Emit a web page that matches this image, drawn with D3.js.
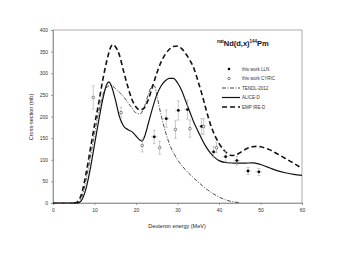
<!DOCTYPE html>
<head>
  <meta charset="utf-8">
  <script src="https://d3js.org/d3.v7.min.js"></script>
  <style>
    body { margin:0; background:#fff; font-family: "Liberation Sans", Arial, sans-serif; }
    .axis text { font-size: 5px; fill: #333; }
    .axis path, .axis line { stroke: #888; stroke-width: 0.8; }
  </style>
</head>
<body>
  <script>
    // values (energy in MeV, cross-section in mb)
    var empireE = [5, 5.8, 7, 8, 9, 10, 11, 12, 13, 14, 14.5, 15, 16, 17, 18, 19, 20, 21, 22, 23, 24, 25, 26, 27, 28, 29, 30, 31, 32, 33, 34, 35, 36, 37, 38, 39, 40, 41, 42, 43, 44, 45, 46, 47, 48, 49, 50, 52, 54, 56, 58, 60];
    var empireS = [0, 2, 25, 70, 125, 180, 230, 285, 330, 362, 366, 362, 342, 305, 270, 240, 222, 215, 220, 240, 270, 300, 325, 343, 355, 362, 363, 357, 345, 330, 310, 280, 248, 212, 180, 156, 138, 124, 115, 110, 111, 116, 122, 127, 130, 131, 130, 124, 114, 103, 92, 80];

    var aliceE = [0, 6, 7, 8, 9, 10, 11, 12, 13, 13.5, 14, 15, 16, 17, 18, 19, 20, 21, 21.5, 22, 23, 24, 25, 26, 27, 28, 29, 30, 31, 32, 33, 34, 35, 36, 37, 38, 39, 40, 42, 44, 46, 48, 50, 52, 54, 56, 58, 60];
    var aliceS = [0, 0, 8, 35, 80, 135, 190, 240, 275, 280, 272, 240, 200, 178, 170, 165, 155, 145, 143, 152, 185, 220, 250, 270, 282, 288, 288, 278, 260, 235, 210, 185, 165, 145, 128, 115, 105, 98, 93, 92, 92, 93, 89, 82, 75, 70, 66, 64];

    var tendlE = [0, 6, 7, 8, 9, 10, 11, 12, 13, 14, 15, 16, 17, 18, 19, 20, 21, 22, 23, 24, 24.5, 25, 26, 27, 28, 30, 32, 34, 36, 38, 40, 42, 44, 45];
    var tendlS = [0, 0, 15, 55, 105, 160, 210, 250, 268, 272, 265, 256, 246, 233, 220, 208, 206, 222, 252, 272, 270, 250, 205, 168, 138, 100, 76, 57, 40, 25, 14, 6, 2, 1];

    // measured points: energy, cross-section, uncertainty
    var llnE = [24.4, 27.3, 30.2, 32.4, 35.8, 38.7, 41.6, 44.3, 47, 49.6];
    var llnS = [153, 195, 214, 216, 177, 118, 107, 98, 74, 72];
    var llnErr = [15, 20, 22, 22, 18, 12, 12, 10, 8, 8];

    var cyricE = [9.7, 16.4, 21.5, 25.7, 29.5, 33, 36.3, 39.4];
    var cyricS = [244, 209, 133, 128, 170, 172, 177, 128];
    var cyricErr = [27, 12, 15, 15, 20, 20, 18, 12];

    var xTicks = [0, 10, 20, 30, 40, 50, 60];
    var yTicks = [0, 50, 100, 150, 200, 250, 300, 350, 400];

    var W = 341, H = 264;
    var svg = d3.select("body").append("svg")
      .attr("width", W)
      .attr("height", H);

    var x = d3.scaleLinear().domain([0, 60]).range([53, 302]);
    var y = d3.scaleLinear().domain([0, 400]).range([203, 30]);

    function zip(a, b) { return a.map(function(v, i) { return [v, b[i]]; }); }

    // frame
    svg.append("rect")
      .attr("x", x(0)).attr("y", y(400))
      .attr("width", x(60) - x(0)).attr("height", y(0) - y(400))
      .style("fill", "none").style("stroke", "#999").style("stroke-width", 0.8);

    svg.append("g")
      .attr("class", "axis")
      .attr("transform", "translate(0," + y(0) + ")")
      .call(d3.axisBottom(x).tickValues(xTicks).tickSize(2).tickPadding(3));

    svg.append("g")
      .attr("class", "axis")
      .attr("transform", "translate(" + x(0) + ",0)")
      .call(d3.axisLeft(y).tickValues(yTicks).tickSize(2).tickPadding(3));

    svg.append("text")
      .text("Deuteron energy (MeV)")
      .attr("x", 177).attr("y", 228)
      .attr("text-anchor", "middle")
      .style("font-size", "5.5px").style("fill", "#222");

    svg.append("text")
      .text("Cross-section (mb)")
      .attr("text-anchor", "middle")
      .attr("transform", "translate(33," + 117 + ") rotate(-90)")
      .style("font-size", "5.5px").style("fill", "#222");

    var line = d3.line()
      .x(function(d) { return x(d[0]); })
      .y(function(d) { return y(d[1]); })
      .curve(d3.curveMonotoneX);

    svg.append("path")
      .datum(zip(tendlE, tendlS))
      .attr("d", line)
      .style("fill", "none").style("stroke", "#222")
      .style("stroke-width", 0.8).style("stroke-dasharray", "4,1.5,1,1.5");

    svg.append("path")
      .datum(zip(aliceE, aliceS))
      .attr("d", line)
      .style("fill", "none").style("stroke", "#111").style("stroke-width", 1.2);

    svg.append("path")
      .datum(zip(empireE, empireS))
      .attr("d", line)
      .style("fill", "none").style("stroke", "#111")
      .style("stroke-width", 1.6).style("stroke-dasharray", "5,3");

    // error bars
    function errBars(E, S, Er, hw) {
      var g = svg.append("g").style("stroke", "#aaa").style("stroke-width", 0.6);
      E.forEach(function(e, i) {
        g.append("line").attr("x1", x(e)).attr("x2", x(e))
          .attr("y1", y(S[i] - Er[i])).attr("y2", y(S[i] + Er[i]));
        [-1, 1].forEach(function(s) {
          g.append("line").attr("x1", x(e) - 1.5).attr("x2", x(e) + 1.5)
            .attr("y1", y(S[i] + s * Er[i])).attr("y2", y(S[i] + s * Er[i]));
        });
        if (hw) {
          g.append("line").attr("x1", x(e - hw)).attr("x2", x(e + hw))
            .attr("y1", y(S[i])).attr("y2", y(S[i]));
        }
      });
    }
    errBars(llnE, llnS, llnErr, 0.8);
    errBars(cyricE, cyricS, cyricErr, 0);

    svg.selectAll(".lln").data(zip(llnE, llnS)).enter()
      .append("circle").attr("class", "lln")
      .attr("cx", function(d) { return x(d[0]); })
      .attr("cy", function(d) { return y(d[1]); })
      .attr("r", 1.4).style("fill", "#000");

    svg.selectAll(".cyric").data(zip(cyricE, cyricS)).enter()
      .append("circle").attr("class", "cyric")
      .attr("cx", function(d) { return x(d[0]); })
      .attr("cy", function(d) { return y(d[1]); })
      .attr("r", 1.3).style("fill", "#fff").style("stroke", "#333").style("stroke-width", 0.6);

    // title
    var title = svg.append("text")
      .attr("x", 217).attr("y", 46)
      .style("font-size", "7.5px").style("font-weight", "bold").style("fill", "#111");
    title.append("tspan").text("nat").style("font-size", "4.5px").attr("dy", -3);
    title.append("tspan").text("Nd(d,x)").attr("dy", 3);
    title.append("tspan").text("144").style("font-size", "4.5px").attr("dy", -3);
    title.append("tspan").text("Pm").attr("dy", 3);

    // legend
    var legend = [
      { text: "this work LLN", type: "filled" },
      { text: "this work CYRIC", type: "open" },
      { text: "TENDL-2012", type: "line", dash: "4,1.5,1,1.5", w: 0.8 },
      { text: "ALICE-D", type: "line", dash: null, w: 1.2 },
      { text: "EMP IRE-D", type: "line", dash: "5,3", w: 1.6 }
    ];
    var lg = svg.append("g").selectAll("g").data(legend).enter()
      .append("g")
      .attr("transform", function(d, i) { return "translate(0," + (69 + i * 9.5) + ")"; });
    lg.append("text")
      .text(function(d) { return d.text; })
      .attr("x", 242).attr("y", 1.6)
      .style("font-size", "4.5px").style("fill", "#333");
    lg.filter(function(d) { return d.type == "filled"; })
      .append("circle").attr("cx", 229).attr("r", 1.3).style("fill", "#000");
    lg.filter(function(d) { return d.type == "open"; })
      .append("circle").attr("cx", 229).attr("r", 1.2)
      .style("fill", "#fff").style("stroke", "#333").style("stroke-width", 0.6);
    lg.filter(function(d) { return d.type == "line"; })
      .append("line").attr("x1", 222).attr("x2", 240)
      .style("stroke", "#111")
      .style("stroke-width", function(d) { return d.w; })
      .style("stroke-dasharray", function(d) { return d.dash; });
  </script>
</body>
